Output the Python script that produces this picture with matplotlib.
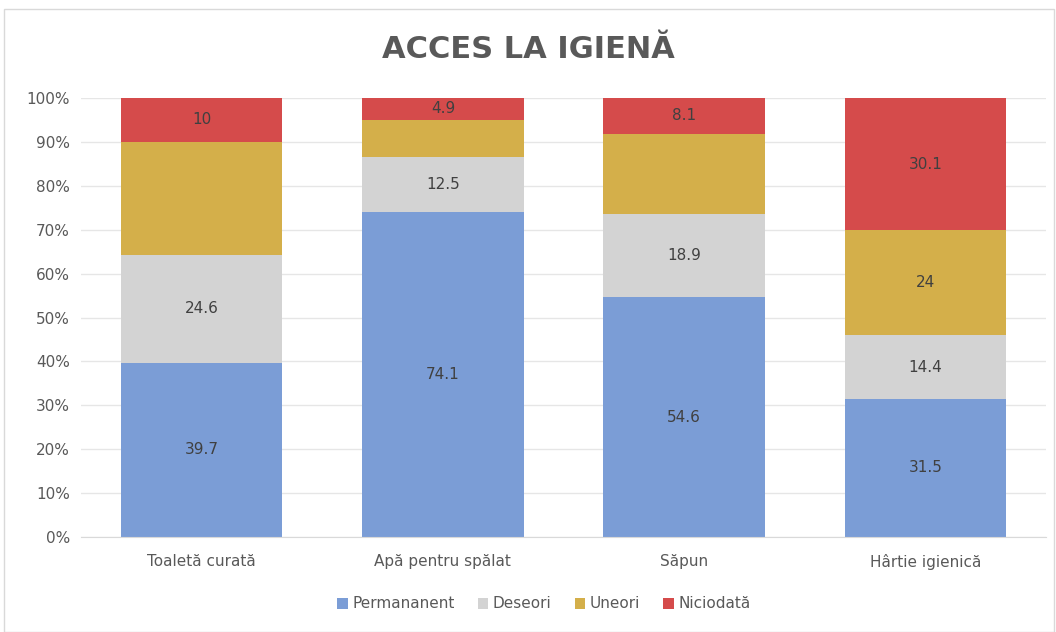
import numpy as np
import matplotlib.pyplot as plt

categories = ['Toaletă curată', 'Apă pentru spălat', 'Săpun', 'Hârtie igienică']
series_names = ['Permananent', 'Deseori', 'Uneori', 'Niciodată']
permanent = [39.7, 74.1, 54.6, 31.5]
deseori = [24.6, 12.5, 18.9, 14.4]
uneori = [25.7, 8.5, 18.4, 24.0]
niciodata = [10.0, 4.9, 8.1, 30.1]
# labels shown in the chart (Uneori is only labelled on the last bar)
shown_labels = [
    ['39.7', '74.1', '54.6', '31.5'],
    ['24.6', '12.5', '18.9', '14.4'],
    [None, None, None, '24'],
    ['10', '4.9', '8.1', '30.1'],
]
colors = ['#7b9dd6', '#d3d3d3', '#d4af4a', '#d54b4b']

txt = '#595959'
fig = plt.figure(figsize=(10.56, 6.32), dpi=100)
ax = fig.add_axes([81 / 1056, 1 - 537 / 632, 965 / 1056, 439 / 632])

data = np.array([permanent, deseori, uneori, niciodata])
totals = data.sum(axis=0)
pct = data / totals * 100
x = np.arange(len(categories))
bottom = np.zeros(len(categories))
for i, name in enumerate(series_names):
    ax.bar(x, pct[i], 0.67, bottom=bottom, color=colors[i], label=name, zorder=2)
    for j in range(len(categories)):
        lab = shown_labels[i][j]
        if lab is not None:
            ax.text(x[j], bottom[j] + pct[i][j] / 2, lab, ha='center', va='center',
                    fontsize=11, color='#404040', zorder=3)
    bottom += pct[i]

ax.set_xlim(-0.5, len(categories) - 0.5)
ax.set_ylim(0, 100)
ax.set_yticks(np.arange(0, 101, 10))
ax.set_yticklabels([f'{v}%' for v in range(0, 101, 10)])
ax.set_xticks(x)
ax.set_xticklabels(categories)
ax.yaxis.grid(True, color='#e6e6e6', linewidth=1, zorder=0)
ax.set_axisbelow(True)
for s in ['top', 'right', 'left']:
    ax.spines[s].set_visible(False)
ax.spines['bottom'].set_color('#d9d9d9')
ax.tick_params(axis='both', length=0, labelsize=11, colors=txt)
ax.tick_params(axis='x', pad=12)
ax.tick_params(axis='y', pad=8)

fig.text(0.5, 1 - 50 / 632, 'ACCES LA IGIENĂ', ha='center', va='center',
         fontsize=22, fontweight='bold', color=txt,
         family=['Liberation Sans Narrow', 'DejaVu Sans'])

fig.legend(loc='center', bbox_to_anchor=(0.515, 1 - 604 / 632), ncol=4, frameon=False,
           fontsize=11, labelcolor=txt, handlelength=0.7, handleheight=0.7,
           handletextpad=0.3, columnspacing=1.5)

border = plt.Rectangle((4 / 1056, 0), 1050 / 1056, 1 - 9 / 632, transform=fig.transFigure,
                       fill=False, edgecolor='#d9d9d9', linewidth=1)
fig.patches.append(border)

fig.savefig('out.png', dpi=100)
